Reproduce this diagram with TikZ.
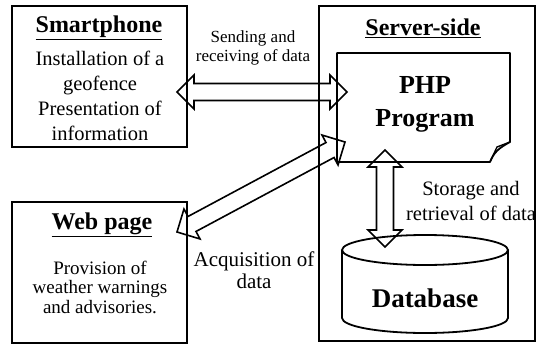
\documentclass[tikz,border=0pt]{standalone}
\usepackage{fontspec}
\setmainfont{Liberation Serif}
\usetikzlibrary{calc}

\newcommand{\arhead}{17pt}
\newcommand{\arhalf}{17pt}
\newcommand{\arshaft}{8.5pt}
% hollow block arrow with a head at both ends
\newcommand{\twoway}[2]{%
  \coordinate (tw1) at ($(#1)!\arhead!(#2)$);
  \coordinate (tw2) at ($(#2)!\arhead!(#1)$);
  \draw[blockarrow] (#1)
    -- ($(tw1)!\arhalf!90:(#2)$) -- ($(tw1)!\arshaft!90:(#2)$)
    -- ($(tw2)!\arshaft!-90:(#1)$) -- ($(tw2)!\arhalf!-90:(#1)$)
    -- (#2)
    -- ($(tw2)!\arhalf!90:(#1)$) -- ($(tw2)!\arshaft!90:(#1)$)
    -- ($(tw1)!\arshaft!-90:(#2)$) -- ($(tw1)!\arhalf!-90:(#2)$)
    -- cycle;}

\tikzset{
  frame/.style={draw, line width=1.8pt},
  heading/.style={inner sep=0pt, font=\bfseries\fontsize{24}{28}\selectfont},
  body/.style={inner sep=0pt, align=center, font=\fontsize{20.5}{25}\selectfont},
  blockarrow/.style={line width=1.6pt, line join=miter},
}

\begin{document}
\begin{tikzpicture}[x=1pt, y=-1pt]
  \useasboundingbox (0,0) rectangle (537,345);

  % boxes
  \draw[frame] (12,6) rectangle (187,147);
  \draw[frame] (12,202) rectangle (187,343);
  \draw[frame] (319,6) rectangle (535,341);

  % PHP document with curled corner
  \draw[frame, line join=round] (337,53) -- (510,53) -- (510,142)
    .. controls (499,148) and (494,152) .. (490,162) -- (337,162) -- cycle;
  \draw[line width=1.4pt] (510,142) -- (497,147) -- (490,162);

  % database
  \draw[frame] (342,250) -- (342,318) arc[start angle=180, end angle=0,
    x radius=83, y radius=15] -- (508,250);
  \draw[frame] (425,250) ellipse[x radius=83, y radius=15];

  % texts
  \node[heading] (phone) at (99,28) {\underline{Smartphone}};
  \node[body] (phonetxt) at (100,96)
    {Installation of a\\geofence\\Presentation of\\information};
  \node[heading] (web) at (102,225) {\underline{Web page}};
  \node[body, font=\fontsize{19}{19.5}\selectfont] (webtxt) at (100,287)
    {Provision of\\weather warnings\\and advisories.};
  \node[heading] (server) at (423,28) {\underline{Server-side}};
  \node[heading, align=center, font=\bfseries\fontsize{26}{33}\selectfont]
    (php) at (425,104) {PHP\\Program};
  \node[heading, font=\bfseries\fontsize{27}{30}\selectfont] (db) at (425,298) {Database};

  \node[body, font=\fontsize{17}{19}\selectfont] (send) at (253,48)
    {Sending and\\receiving of data};
  \node[body] (store) at (471,201) {Storage and\\retrieval of data};
  \node[body, font=\fontsize{21}{22}\selectfont] (acq) at (254,270)
    {Acquisition of\\data};

  % arrows
  \coordinate (phoneR) at (177,92);
  \coordinate (phpL) at (347,92);
  \coordinate (webR) at (177,232);
  \coordinate (phpLL) at (345,142);
  \coordinate (phpB) at (385,150);
  \coordinate (dbT) at (385,247);
  \twoway{phoneR}{phpL}
  \twoway{webR}{phpLL}
  \twoway{phpB}{dbT}
\end{tikzpicture}
\end{document}
